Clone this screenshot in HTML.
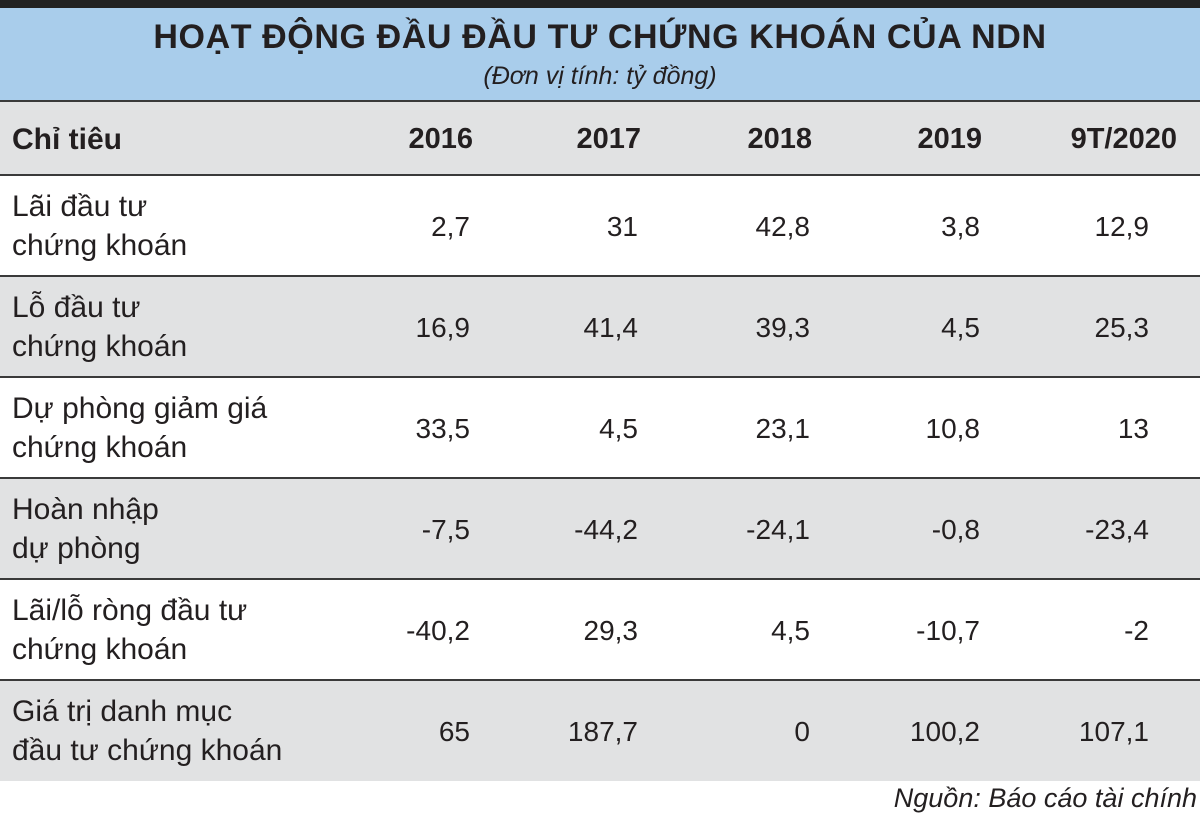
<!DOCTYPE html>
<html><head><meta charset="utf-8"><style>
body{margin:0;width:1200px;height:819px;background:#fff;font-family:"Liberation Sans","DejaVu Sans",sans-serif;color:#231f20;position:relative;overflow:hidden}
div{position:absolute}
.row{left:0;width:1200px;height:100px}
.gray{background:#e1e2e3}
.line{left:0;width:1200px;height:2px;background:#3a3a3a}
.lab{left:12px;font-size:30px;line-height:39px}
.v{font-size:28px;text-align:right;width:160px}
.h{font-size:29px;font-weight:bold;text-align:right;width:160px;top:123px}
</style></head><body>
<div style="left:0;top:0;width:1200px;height:8px;background:#222"></div>
<div style="left:0;top:8px;width:1200px;height:93px;background:#a9cdeb"></div>
<div style="left:0;top:18px;width:1200px;text-align:center;font-size:34px;font-weight:bold;letter-spacing:0.6px">HOẠT ĐỘNG ĐẦU ĐẦU TƯ CHỨNG KHOÁN CỦA NDN</div>
<div style="left:0;top:62px;width:1200px;text-align:center;font-size:25px;font-style:italic">(Đơn vị tính: tỷ đồng)</div>
<div class="line" style="top:100px"></div>
<div class="row gray" style="top:102px;height:73px"></div>
<div class="line" style="top:174px"></div>
<div style="left:12px;top:123px;font-size:30px;font-weight:bold">Chỉ tiêu</div>
<div style="right:3px;top:783px;font-size:27px;font-style:italic">Nguồn: Báo cáo tài chính</div>
<script>
const years=["2016","2017","2018","2019","9T/2020"];
const labels=[["Lãi đầu tư","chứng khoán"],["Lỗ đầu tư","chứng khoán"],["Dự phòng giảm giá","chứng khoán"],["Hoàn nhập","dự phòng"],["Lãi/lỗ ròng đầu tư","chứng khoán"],["Giá trị danh mục","đầu tư chứng khoán"]];
const vals=[["2,7","31","42,8","3,8","12,9"],["16,9","41,4","39,3","4,5","25,3"],["33,5","4,5","23,1","10,8","13"],["-7,5","-44,2","-24,1","-0,8","-23,4"],["-40,2","29,3","4,5","-10,7","-2"],["65","187,7","0","100,2","107,1"]];
const hRight=[473,641,812,982,1177], vRight=[470,638,810,980,1149];
const b=document.body;
years.forEach((y,i)=>{const d=document.createElement('div');d.className='h';d.style.left=(hRight[i]-160)+'px';d.textContent=y;


b.appendChild(d);});
labels.forEach((l,r)=>{const top=176+r*101;
const row=document.createElement('div');row.className='row'+(r%2?' gray':'');row.style.top=top+'px';


b.appendChild(row);
const ln=document.createElement('div');ln.className='line';ln.style.top=(top+99)+'px';


if(r<labels.length-1)b.appendChild(ln);
const lb=document.createElement('div');lb.className='lab';lb.style.top=(top+11)+'px';lb.innerHTML=l[0]+'<br>'+l[1];


b.appendChild(lb);
vals[r].forEach((v,i)=>{const c=document.createElement('div');c.className='v';c.style.left=(vRight[i]-160)+'px';c.style.top=(top+35)+'px';c.textContent=v;


b.appendChild(c);});});
</script>
</body></html>
